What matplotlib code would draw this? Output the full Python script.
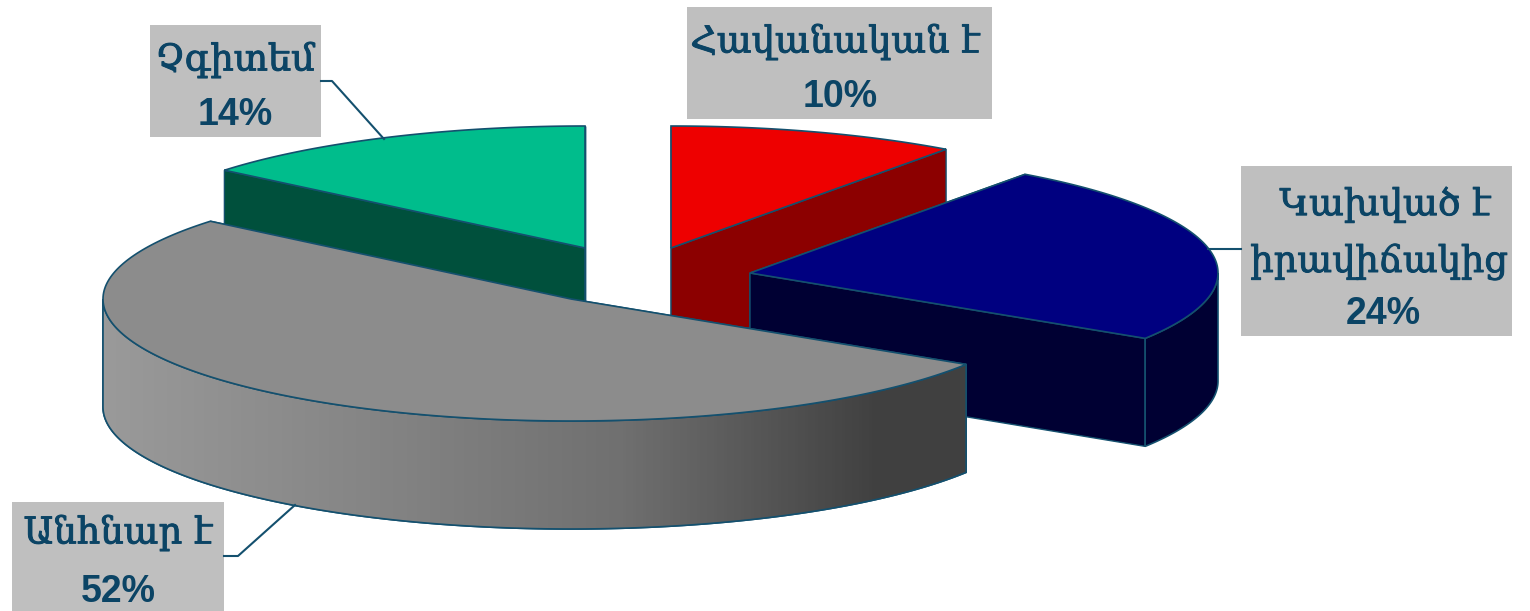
import numpy as np
import matplotlib
matplotlib.use('Agg')
import matplotlib.pyplot as plt
import matplotlib.patheffects as pe
from matplotlib.colors import LinearSegmentedColormap
from matplotlib.patches import Polygon

# Data, clockwise from 12 o'clock
categories = ['Հավանական է', 'Կախված է\nիրավիճակից', 'Անհնար է', 'Չգիտեմ']
shares = [10, 24, 52, 14]

# Colours of the faces
top_colors = ['#ee0000', '#000080', '#8c8c8c', '#00bd8c']
wall_colors = ['#8c0000', '#000033', None, '#00503c']
edge_color = '#14506e'
text_color = '#0b4465'
box_color = '#bfbfbf'

# Pie shape in pixels
rx = 468
ry = 122
depth = 108
# Centre of each exploded slice
centers = [(671, 248), (750, 273), (571, 299), (585, 248)]

# Label boxes: left, top, right, bottom
boxes = [(687, 7, 992, 119), (1241, 166, 1512, 336), (12, 502, 224, 611), (150, 25, 321, 137)]
name_x = [[835], [1385, 1379], [118], [235]]
name_y = [[42], [205, 262], [533], [60]]
pct_x = [840, 1383, 118, 235]
pct_y = [97, 314, 592, 115]
leaders = [None,
           [(1208, 249), (1241, 249)],
           [(224, 556), (238, 556), (295, 505)],
           [(321, 81), (332, 81), (384, 139)]]

fig = plt.figure(figsize=(15.3, 6.11), dpi=100)
ax = fig.add_axes([0, 0, 1, 1])


def rim(cx, cy, a0, a1, drop=0):
    t = np.radians(np.linspace(a0, a1, 200))
    return np.column_stack([cx + rx * np.sin(t), cy - ry * np.cos(t) + drop])


def radial_wall(cx, cy, a):
    t = np.radians(a)
    px, py = cx + rx * np.sin(t), cy - ry * np.cos(t)
    return [(cx, cy), (px, py), (px, py + depth), (cx, cy + depth)]


# Gradient for the side of the big slice, light on the left
gray_map = LinearSegmentedColormap.from_list('gray_side', [
    (0.0, '#9a9a9a'), (0.35, '#828282'), (0.6, '#707070'),
    (0.8, '#505050'), (0.9, '#404040'), (1.0, '#404040')])

edges = np.cumsum([0] + shares) * 3.6
for i in range(len(shares)):
    a0, a1 = edges[i], edges[i + 1]
    cx, cy = centers[i]
    wall = wall_colors[i] if wall_colors[i] else '#404040'

    # cut faces first, the outer side and the top cover what is hidden
    for a in (a0, a1):
        ax.add_patch(Polygon(radial_wall(cx, cy, a), fc=wall, ec=edge_color, lw=1))

    # outer side only where it faces the viewer
    s0, s1 = max(a0, 90), min(a1, 270)
    if s1 > s0:
        upper = rim(cx, cy, s0, s1)
        lower = rim(cx, cy, s0, s1, depth)
        outline = np.vstack([upper, lower[::-1]])
        side = Polygon(outline, fc=wall, ec=edge_color, lw=1.2)
        ax.add_patch(side)
        if wall_colors[i] is None:
            # image goes over the solid side, then the outline again on top
            grad = np.linspace(0, 1, 256).reshape(1, -1)
            im = ax.imshow(grad, cmap=gray_map, aspect='auto', zorder=1.2,
                           extent=(upper[:, 0].min(), upper[:, 0].max(), 611, 0))
            im.set_clip_path(side)
            ax.add_patch(Polygon(outline, fc='none', ec=edge_color, lw=1.2, zorder=1.4))

    ax.add_patch(Polygon(np.vstack([[(cx, cy)], rim(cx, cy, a0, a1)]),
                         fc=top_colors[i], ec=edge_color, lw=1.2, zorder=2))

# Labels
heavier = [pe.withStroke(linewidth=0.7, foreground=text_color)]
for i, name in enumerate(categories):
    x0, y0, x1, y1 = boxes[i]
    ax.add_patch(Polygon([(x0, y0), (x1, y0), (x1, y1), (x0, y1)], fc=box_color, ec='none', zorder=3))
    for line, x, y in zip(name.split('\n'), name_x[i], name_y[i]):
        ax.text(x, y, line, ha='center', va='center', color=text_color, fontsize=26.5,
                family=['DejaVu Serif', 'DejaVu Sans'], path_effects=heavier, zorder=4)
    ax.text(pct_x[i], pct_y[i], f'{shares[i]}%', ha='center', va='center', color=text_color,
            fontsize=27, fontweight='bold', family='Liberation Sans', zorder=4)
    if leaders[i]:
        xs, ys = zip(*leaders[i])
        ax.plot(xs, ys, color=edge_color, lw=1.5, zorder=3)

ax.set_xlim(0, 1530)
ax.set_ylim(611, 0)
ax.axis('off')

plt.savefig('out.png', dpi=100)
